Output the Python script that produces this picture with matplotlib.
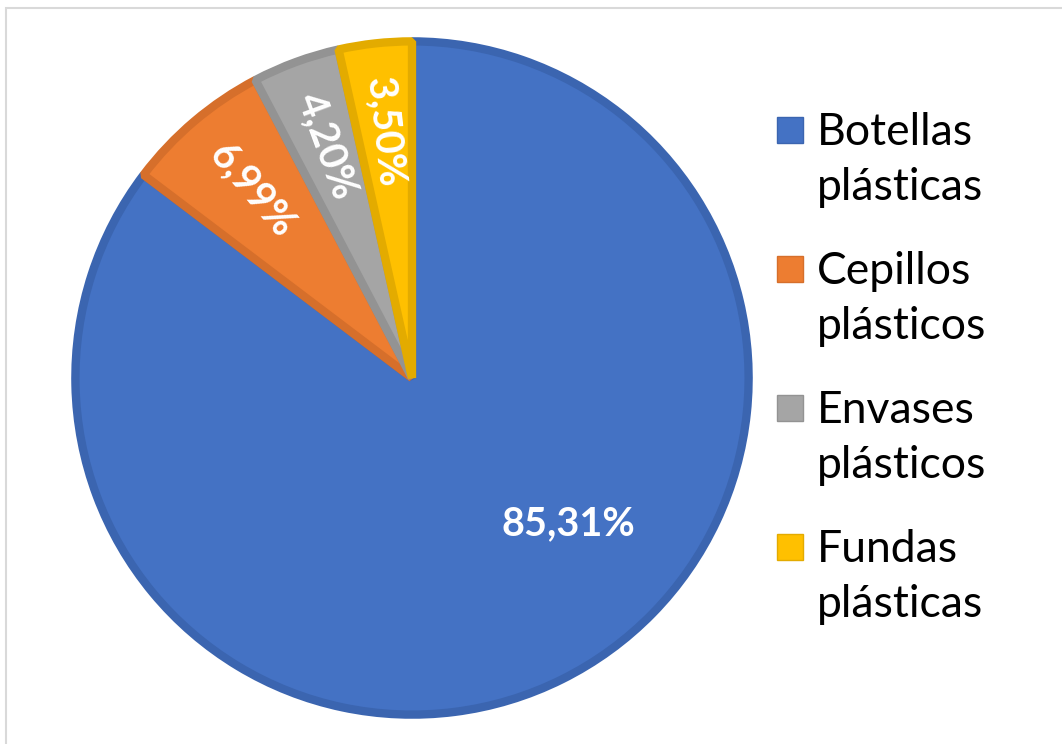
import numpy as np
import matplotlib.pyplot as plt
from matplotlib.patches import Rectangle

categories = ['Botellas plásticas', 'Cepillos plásticos', 'Envases plásticos', 'Fundas plásticas']
values = [85.31, 6.99, 4.20, 3.50]
labels = ['85,31%', '6,99%', '4,20%', '3,50%']
colors = ['#4472C4', '#ED7D31', '#A5A5A5', '#FFC000']
edges = ['#3B65B0', '#D66F2B', '#939393', '#E3AB00']

plt.rcParams['font.family'] = ['Lato', 'DejaVu Sans']

W, H = 1062, 744
fig = plt.figure(figsize=(W / 100, H / 100), dpi=100)

# pie axes, center (412, 378) px, radius 340 px
cx, cy, r = 412, 378, 340
ax = fig.add_axes([(cx - r) / W, (H - cy - r) / H, 2 * r / W, 2 * r / H])
wedges, _ = ax.pie(values, colors=colors, startangle=90, counterclock=False,
                   radius=0.995, wedgeprops=dict(linewidth=6, joinstyle='bevel'))
for w, ec in zip(wedges, edges):
    w.set_edgecolor(ec)
ax.set_xlim(-1.005, 1.005)
ax.set_ylim(-1.005, 1.005)
ax.set_aspect('equal')
ax.axis('off')

# data labels
for i, (w, lab) in enumerate(zip(wedges, labels)):
    mid = (w.theta1 + w.theta2) / 2
    if i == 0:
        ang, dist, rot = -43, 0.63, 0
    else:
        ang, dist, rot = mid, 0.73, mid - 180
    x = dist * np.cos(np.radians(ang))
    y = dist * np.sin(np.radians(ang))
    ax.text(x, y, lab, ha='center', va='center', rotation=rot,
            rotation_mode='anchor', color='white', fontsize=28.5, fontweight='bold')

# legend drawn by hand, marker aligned to first line
for i, (cat, c, ec) in enumerate(zip(categories, colors, edges)):
    base1 = 145 + i * 139
    fig.patches.append(Rectangle((777 / W, (H - base1 + 2) / H), 26 / W, 26 / H,
                                 transform=fig.transFigure, facecolor=c,
                                 edgecolor=ec, linewidth=1))
    fig.text(817 / W, (H - base1 - 55) / H, cat.replace(' ', '\n'), ha='left',
             va='baseline', fontsize=32, color='black', linespacing=1.42,
             transform=fig.transFigure)

# chart frame
fig.patches.append(Rectangle((6 / W, -0.05), 1.1, (H - 8) / H + 0.05,
                             transform=fig.transFigure, fill=False,
                             edgecolor='#D9D9D9', linewidth=1.5))

fig.savefig('out.png', dpi=100)
